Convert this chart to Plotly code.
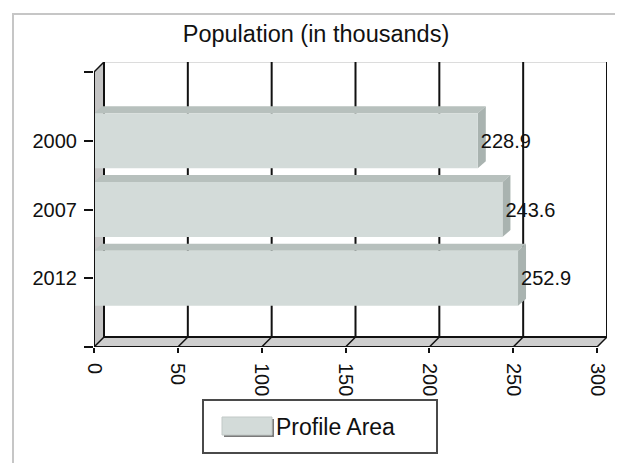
import plotly.graph_objects as go

# ---- data ----
years = ["2000", "2007", "2012"]
population = [228.9, 243.6, 252.9]
x_ticks = [0, 50, 100, 150, 200, 250, 300]
series_name = "Profile Area"
title_text = "Population (in thousands)"

# ---- geometry (screen pixels; page body adds an 8px offset) ----
W, H = 623, 463
OFF = 8
def fx(s):  # screen x -> figure x
    return s - OFF
def fy(s):
    return s - OFF

L = fx(94)
T = fy(62)
R = W - fx(607)
B = H - fy(347)
plot_w, plot_h = W - L - R, H - T - B
XMAX = x_ticks[-1]
depth = 10                            # 3D depth offset px
front_w = plot_w - depth
px_per_x = front_w / XMAX
front_h = plot_h - depth
n = len(years)
y_lo, y_hi = -1, n                    # category slots
px_per_y = front_h / (y_hi - y_lo)
dx = depth / px_per_x
dy = depth / px_per_y
bdx = 8 / px_per_x
bdy = 7 / px_per_y
bar_w = 0.8

FONT = "Arial, Liberation Sans, sans-serif"
face_col = "#d3dbd9"
top_col = "#b7c0bd"
side_col = "#a9b3b0"

ypos = list(range(n))

fig = go.Figure()
fig.add_trace(go.Bar(
    y=ypos, x=population, orientation="h", width=bar_w,
    marker=dict(color=face_col, line=dict(width=0)),
    text=[f"{v:.1f}" for v in population], textposition="outside",
    textfont=dict(family=FONT, size=20, color="#111"),
    cliponaxis=False, name=series_name, showlegend=True,
))

shapes = []
# left wall
shapes.append(dict(type="path", layer="below", xref="x", yref="y",
    path=f"M0,{y_lo} L{dx},{y_lo-dy} L{dx},{y_hi-dy} L0,{y_hi} Z",
    fillcolor="#c4c4c4", line=dict(width=0)))
# floor
shapes.append(dict(type="path", layer="below", xref="x", yref="y",
    path=f"M0,{y_hi} L{dx},{y_hi-dy} L{XMAX+dx},{y_hi-dy} L{XMAX},{y_hi} Z",
    fillcolor="#cecece", line=dict(width=0)))
# back top edge
shapes.append(dict(type="line", layer="below", xref="x", yref="y",
    x0=dx, x1=XMAX+dx, y0=y_lo-dy, y1=y_lo-dy, line=dict(color="#dcdcdc", width=2)))
# back grid lines + floor diagonals
for t in x_ticks:
    shapes.append(dict(type="line", layer="below", xref="x", yref="y",
        x0=t+dx, x1=t+dx, y0=y_lo-dy, y1=y_hi-dy, line=dict(color="#111", width=2)))
    shapes.append(dict(type="line", layer="below", xref="x", yref="y",
        x0=t, x1=t+dx, y0=y_hi, y1=y_hi-dy, line=dict(color="#111", width=1.5)))
# floor back edge
shapes.append(dict(type="line", layer="below", xref="x", yref="y",
    x0=dx, x1=XMAX+dx, y0=y_hi-dy, y1=y_hi-dy, line=dict(color="#111", width=2)))
# wall top diagonal
shapes.append(dict(type="line", layer="below", xref="x", yref="y",
    x0=0, x1=dx, y0=y_lo, y1=y_lo-dy, line=dict(color="#111", width=1.5)))
# bar 3D faces
for yp, v in zip(ypos, population):
    top = yp - bar_w / 2
    bot = yp + bar_w / 2
    shapes.append(dict(type="path", layer="below", xref="x", yref="y",
        path=f"M0,{top} L{bdx},{top-bdy} L{v+bdx},{top-bdy} L{v},{top} Z",
        fillcolor=top_col, line=dict(width=0)))
    shapes.append(dict(type="path", layer="below", xref="x", yref="y",
        path=f"M{v},{top} L{v+bdx},{top-bdy} L{v+bdx},{bot-bdy} L{v},{bot} Z",
        fillcolor=side_col, line=dict(width=0)))
# front axis lines
shapes.append(dict(type="line", layer="above", xref="x", yref="y",
    x0=0, x1=0, y0=y_lo, y1=y_hi, line=dict(color="#111", width=2)))
shapes.append(dict(type="line", layer="above", xref="x", yref="y",
    x0=0, x1=XMAX, y0=y_hi, y1=y_hi, line=dict(color="#111", width=2)))

def px(s):  # screen x -> paper
    return (fx(s) - L) / plot_w

def py(s):
    return (H - B - fy(s)) / plot_h

# outer frame
shapes.append(dict(type="path", xref="paper", yref="paper", layer="below",
    path=f"M{px(13)},{py(480)} L{px(13)},{py(14)} L{px(640)},{py(14)}",
    line=dict(color="#c6c6c6", width=2)))
# legend box and symbol
shapes.append(dict(type="rect", xref="paper", yref="paper", layer="below",
    x0=px(203), x1=px(437), y0=py(400), y1=py(453),
    line=dict(color="#4a4a4a", width=2), fillcolor="rgba(0,0,0,0)"))
shapes.append(dict(type="rect", xref="paper", yref="paper", layer="below",
    x0=px(224), x1=px(274), y0=py(419), y1=py(437),
    line=dict(width=0), fillcolor="#7a7a7a"))
shapes.append(dict(type="rect", xref="paper", yref="paper", layer="below",
    x0=px(222), x1=px(272), y0=py(417), y1=py(435),
    line=dict(color="#c2c9c7", width=1), fillcolor=face_col))

fig.update_layout(
    width=W, height=H,
    margin=dict(l=L, r=R, t=T, b=B, pad=0, autoexpand=False),
    paper_bgcolor="white", plot_bgcolor="white",
    font=dict(family=FONT, size=20, color="#111"),
    title=dict(text=title_text, x=fx(316) / W, xref="container", xanchor="center",
               y=1 - fy(34) / H, yref="container", yanchor="middle",
               font=dict(family=FONT, size=23.5, color="#111")),
    xaxis=dict(range=[0, XMAX * plot_w / front_w], tickvals=x_ticks,
               ticktext=[str(t) for t in x_ticks], tickangle=90,
               ticks="outside", ticklen=5, tickwidth=2, tickcolor="#111",
               ticklabelstandoff=6,
               showgrid=False, zeroline=False, showline=False, automargin=False,
               tickfont=dict(family=FONT, size=20, color="#111")),
    yaxis=dict(range=[y_hi, y_lo - dy],
               tickvals=[y_lo] + ypos + [y_hi], ticktext=[""] + years + [""],
               ticks="outside", ticklen=9, tickwidth=2, tickcolor="#111",
               ticklabelstandoff=3,
               showgrid=False, zeroline=False, showline=False, automargin=False,
               tickfont=dict(family=FONT, size=20, color="#111")),
    showlegend=True,
    legend=dict(xref="container", yref="container", x=fx(236) / W, xanchor="left",
                y=1 - fy(426) / H, yanchor="middle", bgcolor="rgba(0,0,0,0)",
                borderwidth=0, font=dict(family=FONT, size=23, color="#111")),
    shapes=shapes,
)

fig.write_html("out.html")
